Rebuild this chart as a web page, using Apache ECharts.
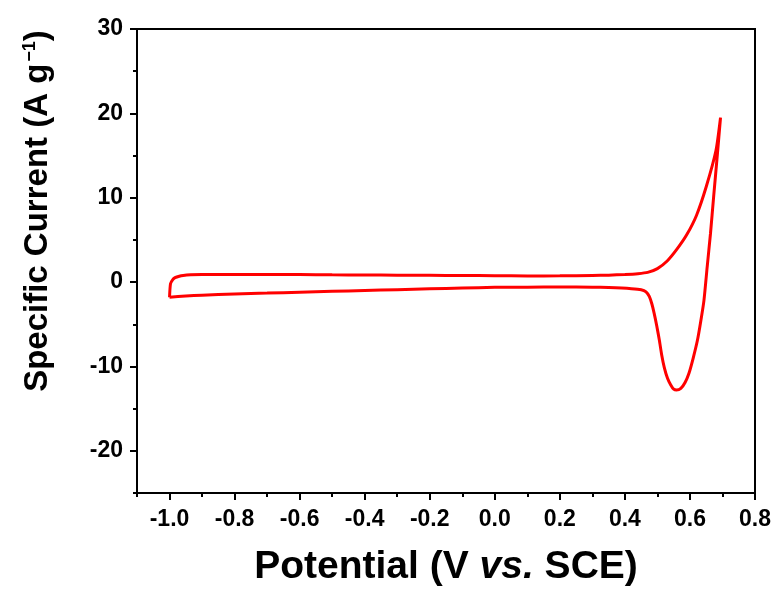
<!DOCTYPE html>
<html>
<head>
<meta charset="utf-8">
<script src="https://cdn.jsdelivr.net/npm/echarts@6/dist/echarts.min.js"></script>
<style>
  html, body { margin: 0; padding: 0; background: #fff; }
  #chart { width: 778px; height: 595px; }
</style>
</head>
<body>
<div id="chart"></div>
<script>
// CV scan: anodic sweep from -1.0 V up to 0.7 V, then back to -1.0 V
var potential = [
  -1.0, -0.997, -0.99, -0.983, -0.97, -0.958, -0.935, -0.9,
  -0.8, -0.7, -0.6, -0.5, -0.4, -0.3, -0.2, -0.1, 0.0, 0.1, 0.2, 0.3,
  0.35, 0.4, 0.44, 0.47, 0.5, 0.53, 0.56, 0.59, 0.62, 0.65, 0.68, 0.694,
  0.684, 0.673, 0.663, 0.653, 0.643, 0.633, 0.623, 0.61, 0.597, 0.585,
  0.572, 0.559, 0.55, 0.541, 0.531, 0.521, 0.513, 0.506, 0.498, 0.49,
  0.483, 0.475, 0.465, 0.45, 0.42,
  0.35, 0.3, 0.2, 0.1, 0.0, -0.1, -0.2, -0.3, -0.4, -0.5, -0.6, -0.7,
  -0.8, -0.9, -0.95, -1.0
]
var current = [
  -1.8, -0.2, 0.3, 0.52, 0.7, 0.79, 0.86, 0.9,
  0.91, 0.9, 0.89, 0.86, 0.84, 0.82, 0.8, 0.78, 0.76, 0.72, 0.74, 0.79,
  0.82, 0.9, 1.0, 1.15, 1.6, 2.5, 3.9, 5.6, 7.9, 11.3, 15.6, 19.5,
  15.0, 10.2, 5.7, 1.8, -2.2, -4.7, -6.9, -9.0, -10.8, -11.9,
  -12.6, -12.8, -12.7, -12.2, -11.4, -10.1, -8.6, -6.9, -5.2, -3.7,
  -2.6, -1.7, -1.15, -0.9, -0.78,
  -0.65, -0.6, -0.58, -0.6, -0.62, -0.7, -0.8, -0.9, -1.0, -1.1, -1.2, -1.3,
  -1.4, -1.55, -1.65, -1.8
]

var xMajor = [-1.0, -0.8, -0.6, -0.4, -0.2, 0.0, 0.2, 0.4, 0.6, 0.8]
var xMinor = [-1.1, -0.9, -0.7, -0.5, -0.3, -0.1, 0.1, 0.3, 0.5, 0.7]
var yMajor = [-20, -10, 0, 10, 20, 30]
var yMinor = [-25, -15, -5, 5, 15, 25]

var font = 'Liberation Sans, Arial, sans-serif'

var chart = echarts.init(document.getElementById('chart'))

var data = potential.map(function(p, i) {
  return [p, current[i]]
})

function baseAxis(min, max) {
  return {
    type: 'value',
    min: min,
    max: max,
    splitLine: { show: false },
    axisLine: { show: true, onZero: false, lineStyle: { color: '#000', width: 2 } }
  }
}

var xMain = baseAxis(-1.1, 0.8)
xMain.position = 'bottom'
xMain.axisTick = { customValues: xMajor, length: 7, lineStyle: { color: '#000', width: 2 } }
xMain.axisLabel = {
  customValues: xMajor,
  margin: 15,
  color: '#000',
  fontFamily: font,
  fontWeight: 'bold',
  fontSize: 23,
  formatter: function(v) { return v.toFixed(1) }
}
xMain.name = 'Potential (V {i|vs.} SCE)'
xMain.nameLocation = 'middle'
xMain.nameGap = 55
xMain.nameTextStyle = {
  color: '#000', fontFamily: font, fontWeight: 'bold', fontSize: 39,
  rich: { i: { color: '#000', fontFamily: font, fontWeight: 'bold', fontStyle: 'italic', fontSize: 39 } }
}

var xSub = baseAxis(-1.1, 0.8)
xSub.position = 'bottom'
xSub.axisLine = { show: false, onZero: false }
xSub.axisTick = { customValues: xMinor, length: 4, lineStyle: { color: '#000', width: 2 } }
xSub.axisLabel = { show: false }

var yMain = baseAxis(-25, 30)
yMain.position = 'left'
yMain.axisTick = { customValues: yMajor, length: 7, lineStyle: { color: '#000', width: 2 } }
yMain.axisLabel = {
  customValues: yMajor,
  margin: 14,
  color: '#000',
  fontFamily: font,
  fontWeight: 'bold',
  fontSize: 23
}
yMain.name = 'Specific Current (A g{sup|−1})'
yMain.nameLocation = 'middle'
yMain.nameGap = 82
yMain.nameTextStyle = {
  color: '#000', fontFamily: font, fontWeight: 'bold', fontSize: 33,
  padding: [0, 0, 0, 100],
  rich: { sup: { color: '#000', fontFamily: font, fontWeight: 'bold', fontSize: 18, verticalAlign: 'top', padding: [0, 0, 16, 2] } }
}

var ySub = baseAxis(-25, 30)
ySub.position = 'left'
ySub.axisLine = { show: false, onZero: false }
ySub.axisTick = { customValues: yMinor, length: 4, lineStyle: { color: '#000', width: 2 } }
ySub.axisLabel = { show: false }

chart.setOption({
  animation: false,
  backgroundColor: '#fff',
  grid: {
    left: 137,
    right: 23,
    top: 29,
    bottom: 102,
    show: true,
    borderColor: '#000',
    borderWidth: 2
  },
  xAxis: [xMain, xSub],
  yAxis: [yMain, ySub],
  series: [{
    type: 'line',
    data: data,
    showSymbol: false,
    smooth: 0.2,
    lineStyle: { color: '#ff0000', width: 3 }
  }]
})
</script>
</body>
</html>
